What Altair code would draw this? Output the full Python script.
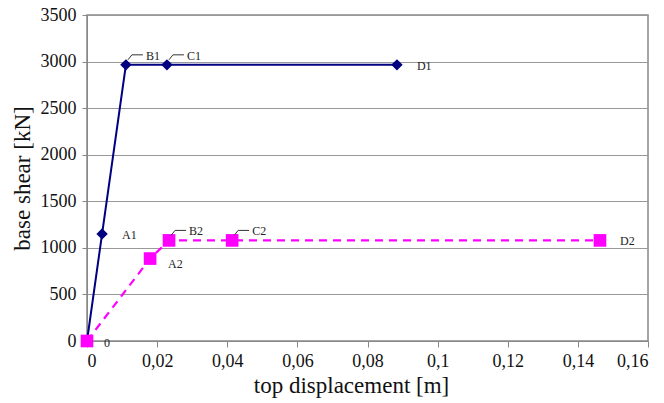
import altair as alt
import pandas as pd

# series 1 (navy, diamonds)
s1_x = [0.0, 0.0043, 0.0111, 0.0228, 0.0884]
s1_y = [0, 1150, 2965, 2965, 2965]
s1_lab = ["0", "A1", "B1", "C1", "D1"]
# series 2 (magenta, squares)
s2_x = [0.0, 0.018, 0.0234, 0.0414, 0.1463]
s2_y = [0, 885, 1080, 1080, 1080]
s2_lab = ["", "A2", "B2", "C2", "D2"]

x_ticks = [0, 0.02, 0.04, 0.06, 0.08, 0.1, 0.12, 0.14, 0.16]
y_ticks = [0, 500, 1000, 1500, 2000, 2500, 3000, 3500]

d1 = pd.DataFrame({"x": s1_x, "y": s1_y, "lab": s1_lab, "s": "1"})
d2 = pd.DataFrame({"x": s2_x, "y": s2_y, "lab": s2_lab, "s": "2"})

FONT = "Liberation Serif"
NAVY = "#000080"
MAG = "#ff00ff"

xs = alt.Scale(domain=[0, 0.16], nice=False, zero=True)
ys = alt.Scale(domain=[0, 3500], nice=False)

X = alt.X("x:Q", scale=xs, title="top displacement [m]",
          axis=alt.Axis(values=x_ticks, grid=False, labelExpr="replace(format(datum.value, ''), '.', ',')",
                        labelFont=FONT, titleFont=FONT, titleX=264, titleAlign="center",
                        tickSize=6, labelPadding=5, titlePadding=4))
Y = alt.Y("y:Q", scale=ys, title="base shear [kN]",
          axis=alt.Axis(values=y_ticks, grid=True, format="d", labelFont=FONT, titleFont=FONT,
                        tickSize=5, labelPadding=6, titlePadding=6))

l1 = alt.Chart(d1).mark_line(color=NAVY, strokeWidth=2).encode(x=X, y=Y)
p1 = alt.Chart(d1).mark_point(shape="diamond", filled=True, color=NAVY, size=130, opacity=1).encode(x=X, y=Y)
l2 = alt.Chart(d2).mark_line(color=MAG, strokeWidth=2.2, strokeDash=[8, 6]).encode(x=X, y=Y)
p2 = alt.Chart(d2).mark_point(shape="square", filled=True, color=MAG, size=160, opacity=1).encode(x=X, y=Y)

def txt(df, labels, dx, dy):
    return alt.Chart(df[df.lab.isin(labels)]).mark_text(
        font=FONT, fontSize=12, color="#222", align="left", baseline="middle", dx=dx, dy=dy
    ).encode(x=X, y=Y, text="lab:N")

allp = pd.concat([d1, d2])
t_right = txt(allp, ["A1", "D1", "D2"], 20, 1)
t_zero = txt(allp, ["0"], 17, 2)
t_a2 = txt(allp, ["A2"], 18, 5)
t_lead = txt(allp, ["B1", "C1", "B2", "C2"], 20, -9)

lead_df = allp[allp.lab.isin(["B1", "C1", "B2", "C2"])]
lead1 = alt.Chart(lead_df).mark_rule(color="#333", strokeWidth=1, xOffset=2, yOffset=-5, x2Offset=6, y2Offset=-10).encode(
    x=X, y=Y, x2="x:Q", y2="y:Q")
lead2 = alt.Chart(lead_df).mark_rule(color="#333", strokeWidth=1, xOffset=6, yOffset=-10, x2Offset=17, y2Offset=-10).encode(
    x=X, y=Y, x2="x:Q", y2="y:Q")

chart = alt.layer(l2, l1, p1, p2, lead1, lead2, t_right, t_zero, t_a2, t_lead).properties(
    width=561, height=326, autosize=alt.AutoSizeParams(type="none"),
    padding={"left": 87, "top": 15, "right": 16, "bottom": 62}
).configure(background="white").configure_view(
    stroke="#888", strokeWidth=1.5
).configure_axis(
    labelFont=FONT, labelFontSize=18, labelColor="#111",
    titleFont=FONT, titleFontSize=23, titleFontWeight="normal", titleColor="#111",
    tickColor="#888", domainColor="#888", gridColor="#999", gridWidth=1.2
)

chart.save("out.html", embed_options={"renderer": "svg", "actions": False})
